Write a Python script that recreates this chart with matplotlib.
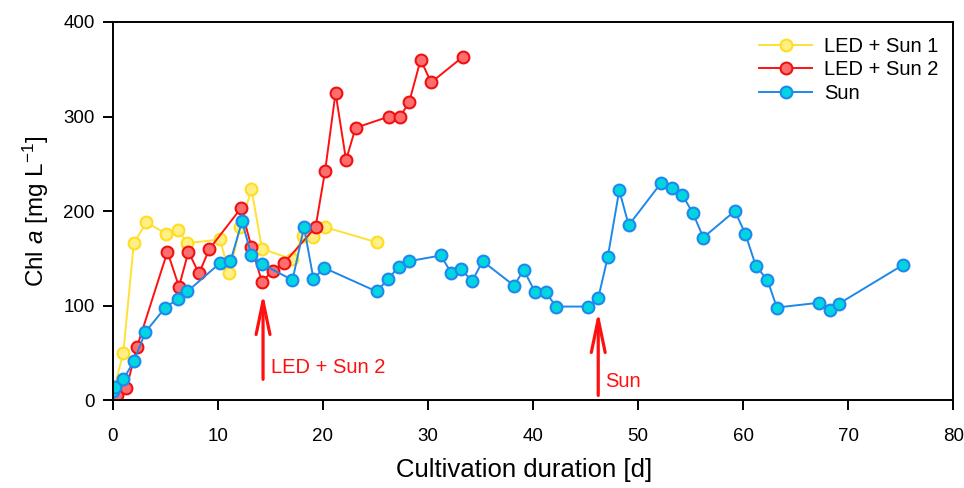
import matplotlib
matplotlib.use("Agg")
import matplotlib.pyplot as plt

plt.rcParams['font.family'] = ['Liberation Sans', 'DejaVu Sans']
plt.rcParams['mathtext.fontset'] = 'custom'
plt.rcParams['mathtext.rm'] = 'Liberation Sans'
plt.rcParams['mathtext.it'] = 'Liberation Sans:italic'

# LED + Sun 1
led1_days = [0, 1.0, 2.0, 3.2, 5.1, 6.2, 7.1, 10.2, 11.1, 12.1, 13.2, 14.2, 17.1, 18.1, 19.1, 20.2, 25.1]
led1_chl = [7, 50, 166, 188, 176, 180, 166, 170, 134, 183, 223, 160, 149, 174, 173, 183, 167]

# LED + Sun 2
led2_days = [0.4, 1.3, 2.3, 5.2, 6.3, 7.2, 8.2, 9.2, 12.2, 13.2, 14.2, 15.2, 16.3, 19.3,
             20.2, 21.2, 22.2, 23.1, 26.3, 27.3, 28.2, 29.3, 30.3, 33.3]
led2_chl = [5, 13, 56, 157, 120, 157, 134, 160, 203, 162, 125, 137, 145, 183,
            242, 325, 254, 288, 300, 299, 315, 360, 336, 363]

# Sun
sun_days = [0, 0.2, 1.0, 2.0, 3.1, 5.0, 6.2, 7.1, 10.2, 11.2, 12.3, 13.2, 14.2, 17.1, 18.2,
            19.1, 20.1, 25.1, 26.2, 27.2, 28.2, 31.2, 32.2, 33.1, 34.2, 35.2, 38.2, 39.1,
            40.2, 41.2, 42.2, 45.2, 46.2, 47.1, 48.2, 49.1, 52.2, 53.2, 54.2, 55.2, 56.2,
            59.2, 60.2, 61.2, 62.3, 63.2, 67.2, 68.3, 69.1, 75.2]
sun_chl = [10, 14, 22, 41, 72, 98, 107, 115, 145, 147, 189, 153, 144, 127, 183,
           128, 140, 115, 128, 141, 147, 153, 135, 139, 126, 147, 121, 138,
           114, 114, 99, 99, 108, 151, 222, 185, 230, 224, 217, 198, 172,
           200, 176, 142, 127, 98, 103, 95, 102, 143]

fig = plt.figure(figsize=(9.64, 4.88), dpi=100)
ax = fig.add_axes([0.117, 0.180, 0.872, 0.775])

ax.plot(led1_days, led1_chl, '-o', color='#FFE033', lw=1.4, ms=8.5,
        mfc='#FFEF85', mec='#FFDD22', mew=1.5, label='LED + Sun 1')
ax.plot(led2_days, led2_chl, '-o', color='#FF1010', lw=1.4, ms=8.5,
        mfc='#FF6E6E', mec='#F01010', mew=1.5, label='LED + Sun 2')
ax.plot(sun_days, sun_chl, '-o', color='#1E88E8', lw=1.4, ms=8.5,
        mfc='#00D5E0', mec='#1E88F0', mew=1.5, label='Sun')

# arrows marking the start of each treatment
arrow = dict(arrowstyle='->,head_length=2.4,head_width=0.5', color='#FF1010', lw=2.3,
             shrinkA=0, shrinkB=0)
ax.annotate('', xy=(14.3, 113), xytext=(14.3, 22), arrowprops=arrow)
ax.text(15.1, 35, 'LED + Sun 2', color='#FF1010', fontsize=14.5, va='center')
ax.annotate('', xy=(46.2, 94), xytext=(46.2, 5), arrowprops=arrow)
ax.text(46.9, 20, 'Sun', color='#FF1010', fontsize=14.5, va='center')

ax.set_xlim(0, 80)
ax.set_ylim(0, 400)
ax.set_xticks(range(0, 81, 10))
ax.set_yticks(range(0, 401, 100))
ax.tick_params(direction='out', length=7, width=1.4, labelsize=13.5,
               top=False, right=False)
ax.tick_params(axis='x', pad=13)
ax.tick_params(axis='y', pad=6)
for s in ax.spines.values():
    s.set_linewidth(1.4)
ax.set_xlabel('Cultivation duration [d]', fontsize=18.5)
ax.set_ylabel('Chl $a$ [mg L$^{-1}$]', fontsize=17.5)
ax.xaxis.set_label_coords(0.489, -0.152)
ax.yaxis.set_label_coords(-0.073, 0.5)

ax.legend(loc='upper right', frameon=False, fontsize=14.5, handlelength=2.6,
          borderaxespad=0.35, labelspacing=0.22, handletextpad=0.6)

fig.savefig('out.png', dpi=100)
